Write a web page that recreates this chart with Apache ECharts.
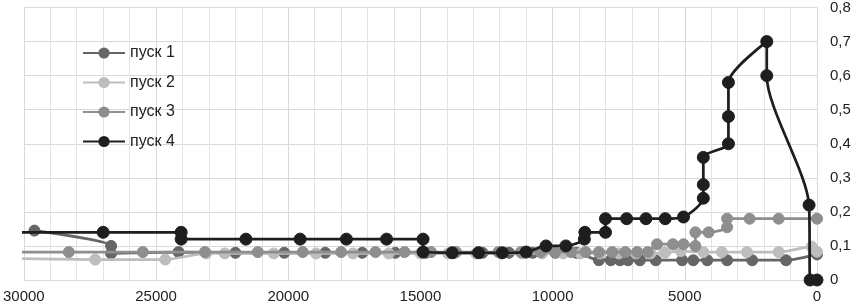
<!DOCTYPE html>
<html>
<head>
<meta charset="utf-8">
<script src="https://cdn.jsdelivr.net/npm/echarts@6/dist/echarts.min.js"></script>
<style>
html,body{margin:0;padding:0;background:#fff;}
#chart{width:854px;height:306px;}
</style>
</head>
<body>
<div id="chart"></div>
<script>
// Series names
const seriesNames = ['пуск 1', 'пуск 2', 'пуск 3', 'пуск 4'];

// пуск 1
const run1X = [29600, 26700, 26700, 24150, 22000, 20150, 18600, 17200, 15950, 14800, 13700, 12650, 11650, 10750, 9900, 9100, 8250, 7800, 7450, 7150, 6700, 6100, 5100, 4680, 4150, 3400, 2450, 1170, 0];
const run1Y = [0.145, 0.10, 0.078, 0.082, 0.08, 0.08, 0.08, 0.08, 0.08, 0.08, 0.08, 0.08, 0.08, 0.08, 0.08, 0.08, 0.058, 0.058, 0.058, 0.058, 0.058, 0.058, 0.058, 0.058, 0.058, 0.058, 0.058, 0.058, 0.075];

// пуск 2
const run2X = [30500, 27300, 24650, 23100, 22400, 20550, 18950, 17550, 16200, 15000, 13950, 12900, 11950, 11150, 10400, 9600, 8950, 8200, 7500, 6850, 6300, 5750, 5150, 4300, 3600, 2650, 1450, 200, 0];
const run2Y = [0.063, 0.06, 0.06, 0.078, 0.078, 0.078, 0.078, 0.078, 0.078, 0.078, 0.078, 0.078, 0.078, 0.078, 0.078, 0.078, 0.078, 0.078, 0.078, 0.078, 0.078, 0.08, 0.085, 0.082, 0.082, 0.082, 0.082, 0.098, 0.083];

// пуск 3
const run3X = [30500, 28300, 25500, 23150, 21150, 19450, 18000, 16700, 15600, 14600, 13650, 12800, 12050, 11200, 10450, 9900, 9300, 8750, 8250, 7750, 7250, 6800, 6400, 6050, 5450, 5050, 4600, 4600, 4100, 3400, 3400, 2550, 1450, 0];
const run3Y = [0.082, 0.082, 0.082, 0.082, 0.082, 0.082, 0.082, 0.082, 0.082, 0.082, 0.082, 0.082, 0.082, 0.082, 0.082, 0.082, 0.082, 0.082, 0.082, 0.082, 0.082, 0.082, 0.082, 0.105, 0.105, 0.105, 0.10, 0.14, 0.14, 0.155, 0.18, 0.18, 0.18, 0.18];

// пуск 4
const run4X = [30500, 27000, 24050, 24050, 21600, 19550, 17800, 16280, 14900, 14900, 13800, 12800, 11900, 11000, 10250, 9500, 8800, 8780, 8000, 8000, 7200, 6470, 5740, 5050, 4300, 4300, 4300, 3350, 3350, 3350, 1900, 1900, 300, 260, 0];
const run4Y = [0.14, 0.14, 0.14, 0.12, 0.12, 0.12, 0.12, 0.12, 0.12, 0.082, 0.08, 0.08, 0.08, 0.082, 0.10, 0.10, 0.12, 0.14, 0.14, 0.18, 0.18, 0.18, 0.18, 0.185, 0.24, 0.28, 0.36, 0.40, 0.48, 0.58, 0.70, 0.60, 0.22, 0, 0];

// Axis ticks
const xTickMin = 0, xTickMax = 30000, xTickStep = 5000;
const yTickMin = 0, yTickMax = 0.8, yTickStep = 0.1;

const runsX = [run1X, run2X, run3X, run4X];
const runsY = [run1Y, run2Y, run3Y, run4Y];
const colors = ['#666666', '#bdbdbd', '#8e8e8e', '#1e1e1e'];
const symSizes = [11, 11, 11, 12];

const chart = echarts.init(document.getElementById('chart'), null, {renderer: 'canvas'});

const series = seriesNames.map((name, i) => ({
  name: name,
  type: 'line',
  data: runsX[i].map((x, j) => [x, runsY[i][j]]),
  smooth: 0.25,
  symbol: 'circle',
  symbolSize: symSizes[i],
  showAllSymbol: true,
  clip: true,
  lineStyle: {color: colors[i], width: 2.75},
  itemStyle: {color: colors[i], borderColor: colors[i]},
  emphasis: {disabled: true},
  z: 2 + i
}));

const option = {
  animation: false,
  backgroundColor: '#ffffff',
  color: colors,
  grid: {left: 22, right: 37, top: 6, bottom: 26, containLabel: false},
  legend: {
    orient: 'vertical',
    left: 77,
    top: 40,
    itemWidth: 42,
    itemHeight: 14,
    itemGap: 13.5,
    textStyle: {fontFamily: 'Liberation Sans, Arial, sans-serif', fontSize: 16, color: '#222', lineHeight: 16},
    data: seriesNames
  },
  xAxis: {
    type: 'value',
    inverse: true,
    min: xTickMin,
    max: xTickMax,
    interval: xTickStep,
    axisLine: {show: false},
    axisTick: {show: false},
    axisLabel: {
      margin: 9,
      fontFamily: 'Liberation Sans, Arial, sans-serif',
      fontSize: 15,
      color: '#222',
      formatter: v => String(v)
    },
    splitLine: {show: true, lineStyle: {color: '#d9d9d9', width: 1}},
    minorTick: {show: false, splitNumber: 5},
    minorSplitLine: {show: true, lineStyle: {color: '#e3e3e3', width: 1}}
  },
  yAxis: {
    type: 'value',
    position: 'right',
    min: yTickMin,
    max: yTickMax,
    interval: yTickStep,
    axisLine: {show: false},
    axisTick: {show: false},
    axisLabel: {
      margin: 13,
      fontFamily: 'Liberation Sans, Arial, sans-serif',
      fontSize: 15,
      color: '#222',
      formatter: v => (v === 0 ? '0' : v.toFixed(1).replace('.', ','))
    },
    splitLine: {show: true, lineStyle: {color: '#d9d9d9', width: 1}}
  },
  series: series
};

chart.setOption(option);
</script>
</body>
</html>
